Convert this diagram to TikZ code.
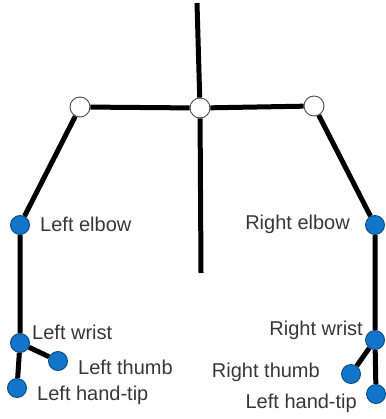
\documentclass[tikz,border=0pt]{standalone}
\usepackage{fontspec}
\setmainfont{Liberation Sans}
\definecolor{jointblue}{HTML}{1275C9}
\definecolor{jointedge}{HTML}{0B4A80}
\definecolor{labeltext}{HTML}{3A3636}
\begin{document}
\begin{tikzpicture}[x=1pt,y=-1pt,
    bone/.style={line width=5pt},
    white joint/.style={circle,draw=black!70,fill=white,line width=0.9pt,minimum size=20pt,inner sep=0pt},
    blue joint/.style={circle,draw=jointedge,fill=jointblue,line width=0.9pt,minimum size=19pt,inner sep=0pt},
    lbl/.style={text=labeltext,inner sep=0pt,font=\fontsize{20}{22}\selectfont}]
  \useasboundingbox (0,0) rectangle (385,419);
  % spine and shoulders
  \coordinate (head) at (197,3);
  \coordinate (hip) at (201,273);
  \node[white joint] (neck) at (200,108) {};
  \node[white joint] (lshoulder) at (80,107) {};
  \node[white joint] (rshoulder) at (314,106) {};
  % left arm
  \node[blue joint] (lelbow) at (20,225) {};
  \node[blue joint] (lwrist) at (20,343) {};
  \node[blue joint] (lthumb) at (58,361) {};
  \node[blue joint] (ltip) at (17,388) {};
  % right arm
  \node[blue joint] (relbow) at (375,225) {};
  \node[blue joint] (rwrist) at (375,340) {};
  \node[blue joint] (rthumb) at (351,374) {};
  \node[blue joint] (rtip) at (376,394) {};
  \draw[bone] (head) -- (neck) -- (hip);
  \draw[bone] (lshoulder) -- (neck) -- (rshoulder);
  \draw[bone] (lshoulder) -- (lelbow) -- (lwrist) -- (ltip);
  \draw[bone] (lwrist) -- (lthumb);
  \draw[bone] (rshoulder) -- (relbow) -- (rwrist) -- (rtip);
  \draw[bone] (rwrist) -- (rthumb);
  % labels
  \node[lbl,anchor=west] (lelbowlbl) at (40,224) {Left elbow};
  \node[lbl,anchor=west] (lwristlbl) at (32,332) {Left wrist};
  \node[lbl,anchor=west] (lthumblbl) at (78,367) {Left thumb};
  \node[lbl,anchor=west] (ltiplbl) at (37,395) {Left hand-tip};
  \node[lbl,anchor=east] (relbowlbl) at (350,224) {Right elbow};
  \node[lbl,anchor=east] (rwristlbl) at (363,330) {Right wrist};
  \node[lbl,anchor=east] (rthumblbl) at (320,372) {Right thumb};
  \node[lbl,anchor=east] (rtiplbl) at (357,403) {Left hand-tip};
\end{tikzpicture}
\end{document}
